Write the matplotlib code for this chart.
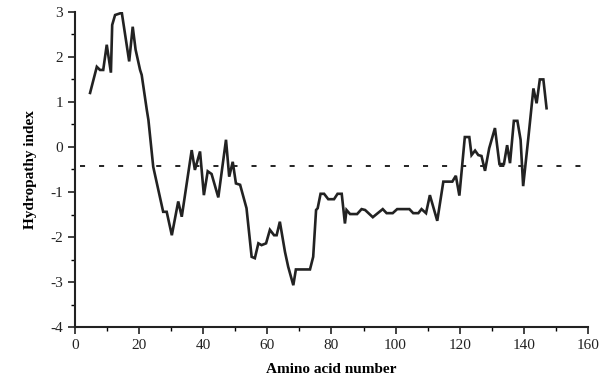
import matplotlib
matplotlib.use("Agg")
import matplotlib.pyplot as plt
from matplotlib.ticker import MultipleLocator

plt.rcParams['font.family'] = ['Liberation Serif', 'DejaVu Serif']
plt.rcParams['axes.unicode_minus'] = False

# hydropathy profile
residue = [4.7, 6.8, 7.8, 8.8, 9.9, 11.2, 11.6, 12.5, 14.6, 16.9, 18.0, 18.9, 20.3, 20.8,
           22.4, 22.9, 24.4, 27.5, 28.6, 30.2, 32.2, 33.3, 36.4, 37.4, 39.0, 40.2, 41.4,
           42.6, 44.7, 47.1, 48.1, 49.2, 50.2, 51.5, 52.5, 53.5, 55.1, 56.1, 57.2, 58.2,
           59.6, 60.8, 62.1, 62.9, 63.9, 65.5, 66.5, 68.1, 68.9, 73.3, 74.3, 75.2, 75.7,
           76.6, 77.7, 79.0, 80.8, 81.9, 83.2, 84.2, 84.7, 85.8, 88.0, 89.4, 90.5, 92.9,
           94.1, 96.0, 97.2, 99.1, 100.5, 104.3, 105.5, 107.1, 108.1, 109.5, 110.7, 113.0,
           114.9, 117.7, 118.8, 119.9, 121.6, 123.0, 123.7, 124.8, 125.8, 126.8, 127.9,
           129.2, 131.0, 132.4, 133.8, 134.8, 135.7, 136.9, 138.0, 139.0, 139.8, 141.4,
           143.0, 144.0, 145.0, 146.1, 147.1]
hydropathy = [1.2, 1.78, 1.71, 1.71, 2.27, 1.65, 2.71, 2.93, 2.98, 1.9, 2.67, 2.16, 1.71, 1.6,
              0.82, 0.6, -0.44, -1.44, -1.44, -1.96, -1.21, -1.55, -0.07, -0.51, -0.1, -1.07,
              -0.54, -0.6, -1.12, 0.16, -0.66, -0.33, -0.81, -0.84, -1.1, -1.36, -2.44, -2.47,
              -2.14, -2.18, -2.14, -1.84, -1.96, -1.96, -1.66, -2.33, -2.66, -3.07, -2.72,
              -2.72, -2.44, -1.4, -1.36, -1.04, -1.04, -1.16, -1.16, -1.04, -1.04, -1.7, -1.4,
              -1.49, -1.49, -1.38, -1.4, -1.56, -1.49, -1.38, -1.47, -1.47, -1.38, -1.38,
              -1.47, -1.47, -1.38, -1.47, -1.07, -1.64, -0.77, -0.77, -0.64, -1.08, 0.22,
              0.22, -0.18, -0.08, -0.18, -0.2, -0.53, -0.03, 0.42, -0.38, -0.38, 0.04, -0.36,
              0.58, 0.58, 0.16, -0.87, 0.19, 1.3, 0.97, 1.5, 1.5, 0.86]
cutoff = -0.42

fig = plt.figure(figsize=(6.02, 3.83), dpi=100)
ax = fig.add_axes([0.1246, 0.146, 0.852, 0.823])

# dashed cut-off line, runs a little past the last tick like the original
ax.plot([1.5, 162], [cutoff, cutoff], color='#222222', lw=1.4, dashes=(2.6, 7.2), clip_on=False)
ax.plot(residue, hydropathy, color='#222222', lw=1.9, solid_joinstyle='miter')

ax.set_xlim(0, 160)
ax.set_ylim(-4, 3)
ax.xaxis.set_major_locator(MultipleLocator(20))
ax.xaxis.set_minor_locator(MultipleLocator(10))
ax.yaxis.set_major_locator(MultipleLocator(1))
ax.yaxis.set_minor_locator(MultipleLocator(0.5))
ax.tick_params(which='major', direction='out', length=5, width=1.2, labelsize=11, colors='#222222')
ax.tick_params(which='minor', direction='out', length=3, width=1.0)
ax.spines['top'].set_visible(False)
ax.spines['right'].set_visible(False)
for s in ('left', 'bottom'):
    ax.spines[s].set_linewidth(1.5)
    ax.spines[s].set_color('#222222')

ax.set_xlabel("Amino acid number", fontsize=11, fontweight='bold', labelpad=8)
ax.set_ylabel("Hydropathy index", fontsize=11, fontweight='bold', labelpad=10)

fig.savefig("out.png", dpi=100)
